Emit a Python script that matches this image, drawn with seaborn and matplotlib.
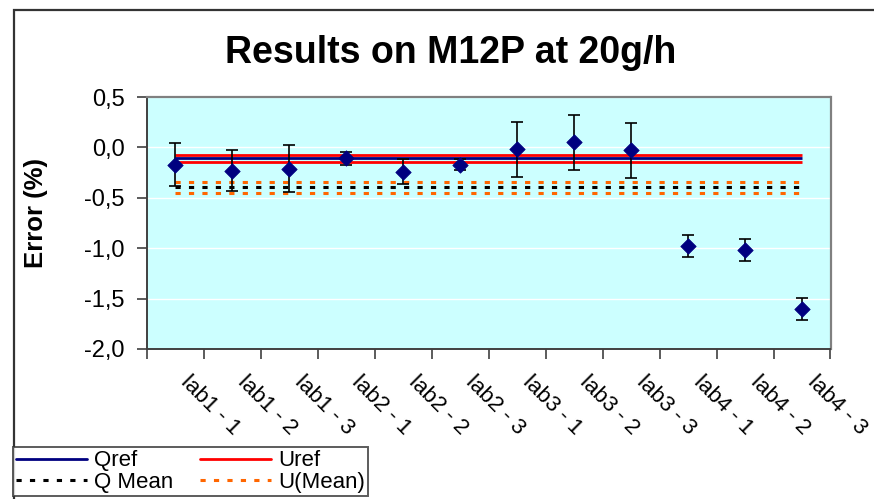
import numpy as np
import pandas as pd
import seaborn as sns
import matplotlib.pyplot as plt
import matplotlib.transforms as mtransforms
from matplotlib.lines import Line2D
from matplotlib.patches import Rectangle
from matplotlib.ticker import FuncFormatter, FixedLocator

categories = ["lab1 - 1", "lab1 - 2", "lab1 - 3", "lab2 - 1", "lab2 - 2", "lab2 - 3",
              "lab3 - 1", "lab3 - 2", "lab3 - 3", "lab4 - 1", "lab4 - 2", "lab4 - 3"]
error = [-0.17, -0.23, -0.21, -0.11, -0.24, -0.17, -0.02, 0.05, -0.03, -0.98, -1.02, -1.60]
uncert = [0.21, 0.20, 0.23, 0.06, 0.12, 0.05, 0.27, 0.27, 0.27, 0.11, 0.11, 0.11]

qref = -0.11
uref = [-0.14, -0.08]
q_mean = -0.39
u_mean = [-0.45, -0.34]

sns.set_theme(style="white", rc={"text.color": "black", "xtick.color": "black",
                                 "ytick.color": "black", "axes.labelcolor": "black"})
plt.rcParams["font.family"] = ["Liberation Sans", "DejaVu Sans"]

df = pd.DataFrame({"lab": categories, "pos": np.arange(len(categories)),
                   "error": error, "u": uncert})

fig = plt.figure(figsize=(8.74, 4.99), dpi=100)
ax = fig.add_axes([147 / 874, 1 - 349 / 499, (830.5 - 147) / 874, (349 - 97) / 499])
ax.set_facecolor("#CCFFFF")

x0, x1 = df["pos"].iloc[0], df["pos"].iloc[-1]

# reference lines
ax.hlines(qref, x0, x1, color="#000080", linewidth=2.0, zorder=2)
for u in uref:
    ax.hlines(u, x0, x1, color="#FF0000", linewidth=2.0, zorder=2)
ax.hlines(q_mean, x0, x1, color="black", linewidth=2.2, linestyles=(0, (1.7, 2.7)), zorder=2)
for u in u_mean:
    ax.hlines(u, x0, x1, color="#FF6600", linewidth=2.2, linestyles=(0, (1.7, 2.7)), zorder=2)

# error bars + diamonds
ax.errorbar(df["pos"], df["error"], yerr=df["u"], fmt="none", ecolor="black",
            elinewidth=1.2, capsize=4.3, capthick=1.2, zorder=3)
sns.scatterplot(data=df, x="pos", y="error", marker="D", s=62, color="#000080",
                edgecolor="#000080", linewidth=0.5, zorder=4, ax=ax, legend=False)

# axes
ax.set_xlim(-0.5, len(categories) - 0.5)
ax.set_ylim(-2.0, 0.5)
ax.set_yticks(np.arange(-2.0, 0.51, 0.5))
ax.yaxis.set_major_formatter(FuncFormatter(lambda v, p: f"{v:.1f}".replace(".", ",")))
ax.yaxis.grid(True, color="white", linewidth=1.0)
ax.set_axisbelow(True)

ax.xaxis.set_major_locator(FixedLocator(np.arange(-0.5, len(categories), 1.0)))
ax.xaxis.set_minor_locator(FixedLocator(df["pos"]))
ax.set_xticklabels([""] * (len(categories) + 1))
ax.set_xticklabels(categories, minor=True)
ax.tick_params(axis="x", which="major", direction="out", length=7, width=1.2,
               color="#404040", bottom=True)
ax.tick_params(axis="x", which="minor", length=0, pad=16, labelsize=16, bottom=True)
ax.tick_params(axis="y", direction="out", length=7, width=1.2, color="#404040",
               left=True, pad=9, labelsize=17)
offset = mtransforms.ScaledTranslation(16 / 100, 0, fig.dpi_scale_trans)
for lbl in ax.get_xticklabels(minor=True):
    lbl.set_rotation(-45)
    lbl.set_rotation_mode("anchor")
    lbl.set_ha("left")
    lbl.set_va("top")
    lbl.set_transform(lbl.get_transform() + offset)

ax.set_xlabel("")
ax.set_ylabel("")
for side in ["left", "bottom"]:
    ax.spines[side].set_color("#404040")
    ax.spines[side].set_linewidth(1.4)
for side in ["top", "right"]:
    ax.spines[side].set_color("#808080")
    ax.spines[side].set_linewidth(1.6)

# titles
fig.text(451 / 874, 1 - 63 / 499, "Results on M12P at 20g/h", ha="center",
         va="baseline", fontsize=27, fontweight="bold", color="black")
fig.text(36 / 874, 1 - 213 / 499, "Error (%)", rotation=90, ha="center",
         va="center", fontsize=18.5, fontweight="bold", color="black")

# chart border
fig.patches.append(Rectangle((14 / 874, -0.1), 1.2, 1 - 10 / 499 + 0.1,
                             transform=fig.transFigure, fill=False,
                             edgecolor="#333333", linewidth=1.6))

# legend
handles = [
    Line2D([], [], color="#000080", linewidth=2.0),
    Line2D([], [], color="black", linewidth=2.2, linestyle=(0, (1.7, 2.7))),
    Line2D([], [], color="#FF0000", linewidth=2.0),
    Line2D([], [], color="#FF6600", linewidth=2.2, linestyle=(0, (1.7, 2.7))),
]
labels = ["Qref", "Q Mean", "Uref", "U(Mean)"]
leg = fig.legend(handles, labels, ncol=2, loc="upper left",
                 bbox_to_anchor=(13 / 874, 1 - 447 / 499), borderaxespad=0,
                 fontsize=16, frameon=True, fancybox=False, handlelength=3.2,
                 handletextpad=0.3, columnspacing=1.2, labelspacing=0.02,
                 borderpad=0.15)
leg.get_frame().set_edgecolor("#333333")
leg.get_frame().set_linewidth(1.4)

fig.savefig("out.png", dpi=100)
